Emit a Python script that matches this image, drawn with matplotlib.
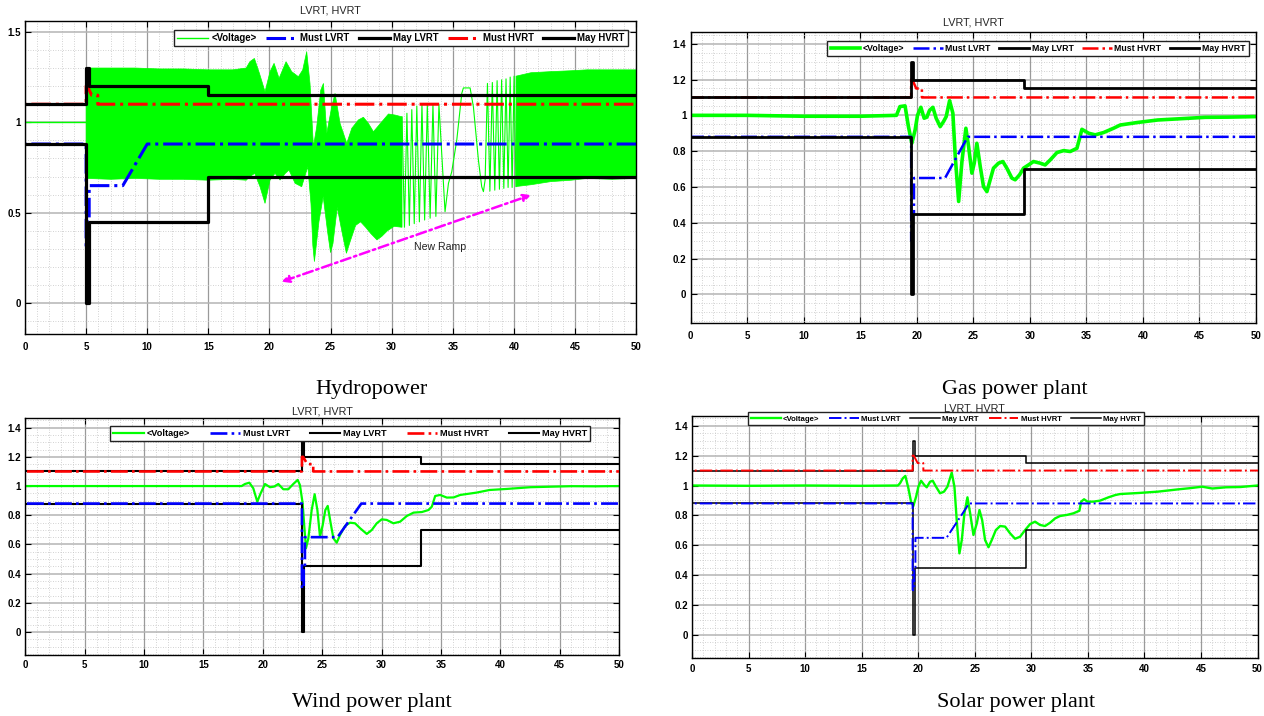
import numpy as np
import matplotlib.pyplot as plt
from matplotlib.ticker import MultipleLocator

plt.rcParams['font.family'] = ['Liberation Sans', 'DejaVu Sans']

# fault instants (s)
t0_hydro = 5.0
t0_gas = 19.5
t0_wind = 23.3
t0_solar = 19.5

# grid code envelopes, times relative to the fault
must_lvrt_dt = [-99, 0, 0, 0.15, 0.15, 0.25, 0.25, 3, 5, 99]
must_lvrt_v = [0.88, 0.88, 0.3, 0.3, 0.45, 0.45, 0.65, 0.65, 0.88, 0.88]
may_lvrt_dt = [-99, 0, 0, 0.2, 0.2, 10, 10, 99]
may_lvrt_v = [0.88, 0.88, 0, 0, 0.45, 0.45, 0.7, 0.7]
must_hvrt_dt = [-99, 0, 0, 0.1, 0.45, 0.95, 0.95, 99]
must_hvrt_v = [1.1, 1.1, 1.2, 1.2, 1.15, 1.15, 1.1, 1.1]
may_hvrt_dt = [-99, 0, 0, 0.2, 0.2, 10, 10, 99]
may_hvrt_v = [1.1, 1.1, 1.3, 1.3, 1.2, 1.2, 1.15, 1.15]

# hydropower voltage (dense oscillation drawn as envelope)
hydro_pre_t = [0, 5.0]
hydro_pre_v = [1.0, 1.0]
hydro_up_t = [5.0, 7, 9, 11, 13, 15, 17, 18.1, 18.4, 18.77, 19.18, 19.64, 20.05, 20.38, 20.79,
              21.36, 21.82, 22.37, 22.72, 23.05, 23.32, 23.6, 23.87, 24.2, 24.42, 24.69, 25.1,
              25.37, 25.78, 26.33, 26.74, 27.28, 27.69, 28.1, 28.51, 29.2, 29.74, 30.29, 30.85]
hydro_up_v = [1.30, 1.30, 1.30, 1.295, 1.295, 1.29, 1.29, 1.30, 1.335, 1.353, 1.271, 1.169, 1.28,
              1.326, 1.243, 1.335, 1.28, 1.252, 1.289, 1.39, 1.215, 0.865, 0.976, 1.178, 1.215,
              0.939, 1.086, 1.16, 0.994, 0.884, 0.967, 1.013, 1.028, 0.994, 0.948, 1.003, 1.046,
              1.04, 1.03]
hydro_lo_t = [5.0, 7, 9, 11, 13, 15, 17, 18.1, 18.4, 18.8, 19.23, 19.64, 20.05, 20.46, 20.87, 21.3,
              21.6, 22.1, 22.64, 23.14, 23.4, 23.55, 23.68, 23.85, 24.05, 24.4, 24.75, 25.0, 25.2,
              25.55, 25.95, 26.3, 26.6, 27.05, 27.46, 27.87, 28.3, 28.8, 29.2, 29.65, 30.2, 30.85]
hydro_lo_v = [0.69, 0.685, 0.69, 0.685, 0.685, 0.68, 0.685, 0.68, 0.70, 0.718, 0.644, 0.552, 0.681,
              0.718, 0.681, 0.718, 0.736, 0.663, 0.644, 0.755, 0.55, 0.32, 0.23, 0.33, 0.45, 0.59,
              0.40, 0.28, 0.33, 0.53, 0.39, 0.276, 0.34, 0.43, 0.45, 0.42, 0.385, 0.35, 0.37, 0.40,
              0.425, 0.42]
hydro_mid_t = [30.85, 31.05, 31.25, 31.45, 31.65, 31.85, 32.06, 32.27, 32.48, 32.70, 32.92, 33.15,
               33.38, 33.62, 33.87, 34.37, 34.65, 34.92, 35.33, 35.74, 35.87, 36.42, 36.69, 37.1,
               37.37, 37.51, 37.65, 37.84, 38.04, 38.24, 38.44, 38.63, 38.82, 39.0, 39.18, 39.36,
               39.53, 39.70, 39.86, 40.02, 40.18]
hydro_mid_v = [1.03, 0.42, 1.05, 0.43, 1.07, 0.44, 1.09, 0.45, 1.10, 0.46, 1.10, 0.47, 1.10, 0.48,
               1.10, 0.506, 0.663, 0.727, 0.902, 1.16, 1.19, 1.19, 1.086, 0.792, 0.644, 0.617, 0.681,
               1.215, 0.62, 1.22, 0.625, 1.23, 0.63, 1.235, 0.635, 1.24, 0.64, 1.25, 0.64, 1.255,
               0.645]
hydro_tail_t = [40.18, 41.4, 43, 44.7, 46, 48, 50]
hydro_tail_up = [1.255, 1.274, 1.28, 1.285, 1.29, 1.29, 1.29]
hydro_tail_lo = [0.645, 0.655, 0.672, 0.68, 0.69, 0.685, 0.69]

gas_t = [0, 5, 10, 15, 18.2, 18.51, 18.96, 19.26, 19.56, 19.85, 20.06, 20.36, 20.65, 20.89, 21.12,
         21.42, 21.71, 22.07, 22.36, 22.6, 22.9, 23.19, 23.4, 23.7, 23.99, 24.34, 24.58, 24.87,
         25.08, 25.31, 25.61, 25.9, 26.2, 26.49, 26.78, 27.23, 27.61, 27.96, 28.41, 28.7, 29.09,
         29.44, 29.88, 30.32, 30.91, 31.35, 31.8, 32.39, 32.98, 33.57, 34.16, 34.4, 34.6, 35.2,
         35.78, 36.52, 37.4, 37.99, 39.5, 41.3, 43, 45.5, 47.5, 50]
gas_v = [1.0, 1.0, 0.995, 0.995, 1.0, 1.049, 1.053, 0.937, 0.844, 0.918, 1.0, 1.045, 0.984, 0.99,
         1.027, 1.045, 0.984, 0.937, 0.965, 0.993, 1.082, 1.012, 0.77, 0.519, 0.742, 0.928, 0.826,
         0.677, 0.733, 0.844, 0.714, 0.602, 0.574, 0.64, 0.705, 0.733, 0.742, 0.705, 0.649, 0.64,
         0.668, 0.705, 0.723, 0.742, 0.733, 0.723, 0.751, 0.792, 0.803, 0.798, 0.816, 0.872, 0.922,
         0.9, 0.891, 0.904, 0.928, 0.946, 0.96, 0.974, 0.98, 0.989, 0.99, 0.993]

wind_t = [0, 10, 18.22, 18.5, 18.87, 19.2, 19.54, 19.82, 20.19, 20.61, 20.95, 21.31, 21.73, 22.15,
          22.57, 22.94, 23.13, 23.36, 23.5, 23.64, 23.84, 24.12, 24.37, 24.6, 24.82, 25.05, 25.27,
          25.47, 25.72, 25.95, 26.23, 26.51, 26.93, 27.35, 27.77, 28.2, 28.76, 29.18, 29.6, 30.02,
          30.44, 31.0, 31.57, 32.13, 32.7, 33.4, 33.96, 34.24, 34.52, 34.94, 35.5, 36.07, 36.63,
          38, 39.1, 40.5, 42.55, 44, 46, 48, 50]
wind_v = [1.0, 1.0, 1.0, 1.014, 1.023, 0.985, 0.893, 0.95, 1.014, 0.992, 0.996, 1.014, 0.978, 0.978,
          1.014, 1.042, 1.007, 0.882, 0.722, 0.574, 0.642, 0.836, 0.944, 0.836, 0.653, 0.733, 0.836,
          0.864, 0.745, 0.642, 0.612, 0.665, 0.727, 0.749, 0.745, 0.711, 0.672, 0.699, 0.745, 0.772,
          0.768, 0.745, 0.756, 0.795, 0.818, 0.822, 0.836, 0.859, 0.932, 0.939, 0.921, 0.922, 0.939,
          0.955, 0.973, 0.98, 0.992, 0.995, 0.999, 0.998, 1.0]

solar_t = [0, 5, 10, 15, 18.2, 18.39, 18.63, 18.86, 19.13, 19.36, 19.57, 19.81, 20.01, 20.25, 20.54,
           20.75, 21.04, 21.28, 21.57, 21.93, 22.28, 22.58, 22.96, 23.2, 23.4, 23.64, 23.85, 24.08,
           24.35, 24.59, 24.88, 25.18, 25.41, 25.65, 25.91, 26.21, 26.5, 26.86, 27.24, 27.68, 28.12,
           28.56, 29.0, 29.45, 29.89, 30.33, 30.77, 31.21, 31.66, 32.1, 32.54, 33.13, 33.72, 34.25,
           34.4, 34.66, 34.96, 35.49, 36.08, 36.82, 37.41, 37.85, 39.5, 41.2, 42.95, 44, 45.1, 46,
           47.2, 48.5, 50]
solar_v = [1.0, 0.998, 1.0, 0.998, 1.0, 1.015, 1.048, 1.064, 0.981, 0.892, 0.863, 0.925, 0.992,
           1.032, 1.003, 0.988, 1.025, 1.032, 0.992, 0.948, 0.959, 0.992, 1.086, 0.992, 0.769, 0.546,
           0.635, 0.814, 0.921, 0.814, 0.669, 0.747, 0.836, 0.769, 0.635, 0.587, 0.635, 0.702, 0.729,
           0.725, 0.68, 0.644, 0.657, 0.702, 0.742, 0.758, 0.736, 0.729, 0.751, 0.78, 0.796, 0.803,
           0.814, 0.831, 0.892, 0.908, 0.892, 0.892, 0.899, 0.921, 0.936, 0.943, 0.95, 0.959, 0.974,
           0.982, 0.992, 0.98, 0.988, 0.99, 1.0]

labels = ['<Voltage>', 'Must LVRT', 'May LVRT', 'Must HVRT', 'May HVRT']
captions = ['Hydropower', 'Gas power plant', 'Wind power plant', 'Solar power plant']
xticks = np.arange(0, 51, 5)

GREEN = '#00ff00'


def setup(ax, ylim, yticks, yminor, xpad):
    ax.set_xlim(0, 50)
    ax.set_ylim(*ylim)
    ax.set_xticks(xticks, [f'{v:g}' for v in xticks], fontweight='bold', fontsize=7)
    ax.set_yticks(yticks, [f'{v:g}' for v in yticks], fontweight='bold', fontsize=7)
    ax.xaxis.set_minor_locator(MultipleLocator(1))
    ax.yaxis.set_minor_locator(MultipleLocator(yminor))
    ax.tick_params(which='major', direction='in', length=4, width=0.8, top=True, right=True, pad=3)
    ax.tick_params(axis='x', which='major', pad=xpad)
    ax.tick_params(which='minor', length=0)
    ax.xaxis.grid(True, which='major', color='#9a9a9a', lw=0.9)
    ax.yaxis.grid(True, which='major', color='#b4b4b4', lw=1.1)
    ax.grid(which='minor', color='#c4c4c4', lw=0.6, linestyle=(0, (1, 2)))
    ax.set_axisbelow(True)
    for s in ax.spines.values():
        s.set_linewidth(1.0)


def draw_limits(ax, t0, lw_col, lw_blk, col_top):
    zc = 4 if col_top else 2
    zb = 3
    ax.plot(t0 + np.array(must_lvrt_dt), must_lvrt_v, color='#0000ff', ls='-.', lw=lw_col,
            label=labels[1], zorder=zc)
    ax.plot(t0 + np.array(may_lvrt_dt), may_lvrt_v, color='black', lw=lw_blk,
            label=labels[2], zorder=zb)
    ax.plot(t0 + np.array(must_hvrt_dt), must_hvrt_v, color='#ff0000', ls='-.', lw=lw_col,
            label=labels[3], zorder=zc)
    ax.plot(t0 + np.array(may_hvrt_dt), may_hvrt_v, color='black', lw=lw_blk,
            label=labels[4], zorder=zb)


def add_legend(ax, box, fs, hl):
    h, l = ax.get_legend_handles_labels()
    order = [l.index(x) for x in labels]
    leg = ax.legend([h[i] for i in order], [l[i] for i in order], ncol=5, mode='expand',
                    loc='upper left', bbox_to_anchor=box, borderaxespad=0,
                    prop={'size': fs, 'weight': 'bold'}, handlelength=hl, handletextpad=0.3,
                    borderpad=0.35, fancybox=False, framealpha=1, edgecolor='#222222')
    leg.get_frame().set_linewidth(1.0)
    leg.set_zorder(10)


def title(ax, y):
    ax.text(0.5, y, 'LVRT, HVRT', transform=ax.transAxes, ha='center', va='center',
            fontsize=7.8, color='#262626', clip_on=False, zorder=1)


fig = plt.figure(figsize=(12.64, 7.16), dpi=100)

# --- Hydropower
ax1 = fig.add_axes([0.0198, 0.5335, 0.4834, 0.4372])
setup(ax1, (-0.17, 1.56), [0, 0.5, 1, 1.5], 0.1, 6)
ax1.plot(hydro_pre_t, hydro_pre_v, color=GREEN, lw=1, label=labels[0], zorder=1)
ax1.fill(np.r_[hydro_up_t, hydro_lo_t[::-1]], np.r_[hydro_up_v, hydro_lo_v[::-1]],
         color=GREEN, lw=0.5, zorder=1)
ax1.plot(hydro_mid_t, hydro_mid_v, color=GREEN, lw=0.8, zorder=1)
ax1.fill(np.r_[hydro_tail_t, hydro_tail_t[::-1]], np.r_[hydro_tail_up, hydro_tail_lo[::-1]],
         color=GREEN, lw=0.5, zorder=1)
draw_limits(ax1, t0_hydro, 2.2, 2.3, False)
ax1.annotate('', xy=(41.4, 0.598), xytext=(21.0, 0.119),
             arrowprops=dict(arrowstyle='<|-|>', color='#ff00ff', lw=1.8, ls=(0, (4, 1.5, 1, 1.5)),
                             mutation_scale=11, shrinkA=0, shrinkB=0), zorder=5)
ax1.text(34.0, 0.313, 'New Ramp', fontsize=7.6, ha='center', va='center', color='#222222')
add_legend(ax1, (0.243, 0.922, 0.744, 0.050), 6.9, 3.3)
title(ax1, 1.035)

# --- Gas power plant
ax2 = fig.add_axes([0.5464, 0.5489, 0.4473, 0.4060])
setup(ax2, (-0.16, 1.464), np.round(np.arange(0, 1.41, 0.2), 1), 0.05, 5.5)
ax2.plot(gas_t, gas_v, color=GREEN, lw=2.6, label=labels[0], zorder=1)
draw_limits(ax2, t0_gas, 1.8, 2.0, False)
add_legend(ax2, (0.242, 0.918, 0.745, 0.053), 6.3, 3.4)
title(ax2, 1.032)

# --- Wind power plant
ax3 = fig.add_axes([0.0200, 0.0852, 0.4697, 0.3310])
setup(ax3, (-0.157, 1.466), np.round(np.arange(0, 1.41, 0.2), 1), 0.05, 3.5)
ax3.plot(wind_t, wind_v, color=GREEN, lw=1.6, label=labels[0], zorder=1)
draw_limits(ax3, t0_wind, 1.9, 1.5, True)
add_legend(ax3, (0.143, 0.914, 0.809, 0.052), 6.6, 3.3)
title(ax3, 1.027)

# --- Solar power plant
ax4 = fig.add_axes([0.5475, 0.0810, 0.4474, 0.3380])
setup(ax4, (-0.154, 1.465), np.round(np.arange(0, 1.41, 0.2), 1), 0.05, 4)
ax4.plot(solar_t, solar_v, color=GREEN, lw=1.7, label=labels[0], zorder=1)
draw_limits(ax4, t0_solar, 1.4, 1.1, True)
add_legend(ax4, (0.0997, 0.972, 0.699, 0.043), 5.6, 3.8)
title(ax4, 1.029)

cap_pos = [(372, 390), (1015, 390), (372, 702), (1016, 703)]
for txt, (px, py) in zip(captions, cap_pos):
    fig.text(px / 1264, 1 - py / 716, txt, ha='center', va='center', fontsize=16,
             family='Liberation Serif')

fig.savefig('out.png', dpi=100)
